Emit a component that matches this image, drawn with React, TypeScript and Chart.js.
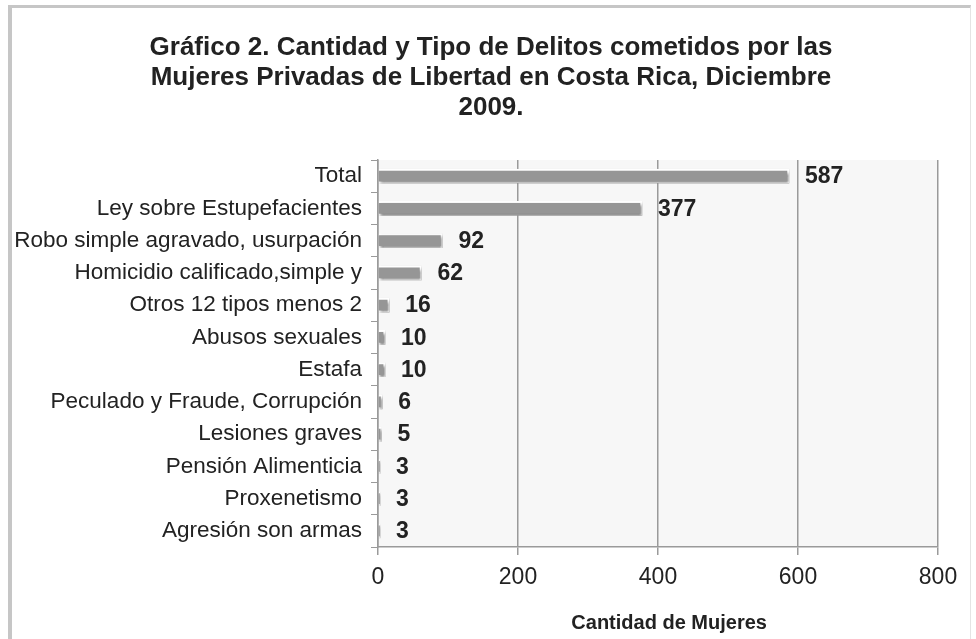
import React, { useEffect, useRef } from "react";
import { Chart, registerables } from "chart.js";

Chart.register(...registerables);

const categories = [
  "Total",
  "Ley sobre Estupefacientes",
  "Robo simple agravado, usurpación",
  "Homicidio calificado,simple y",
  "Otros 12 tipos menos 2",
  "Abusos sexuales",
  "Estafa",
  "Peculado y Fraude, Corrupción",
  "Lesiones graves",
  "Pensión Alimenticia",
  "Proxenetismo",
  "Agresión son armas",
];
const values = [587, 377, 92, 62, 16, 10, 10, 6, 5, 3, 3, 3];
const xTicks = [0, 200, 400, 600, 800];
const titleLines = [
  "Gráfico 2. Cantidad y Tipo de Delitos cometidos por las",
  "Mujeres Privadas de Libertad en Costa Rica, Diciembre",
  "2009.",
];
const xTitle = "    Cantidad de Mujeres";

const FONT = "'Liberation Sans', Arial, Helvetica, sans-serif";

const bgPlugin = {
  id: "plotBg",
  beforeDraw(chart: any) {
    const { ctx, chartArea } = chart;
    ctx.save();
    ctx.fillStyle = "#f7f7f7";
    ctx.fillRect(chartArea.left, chartArea.top, chartArea.right - chartArea.left, chartArea.bottom - chartArea.top);
    ctx.restore();
  },
};

const titlePlugin = {
  id: "centeredTitle",
  afterDraw(chart: any) {
    const { ctx } = chart;
    ctx.save();
    ctx.font = `bold 26px ${FONT}`;
    ctx.fillStyle = "#222";
    ctx.textAlign = "center";
    ctx.textBaseline = "middle";
    titleLines.forEach((line, i) => {
      ctx.fillText(line, 491, 48 + i * 30);
    });
    ctx.restore();
  },
};

const shadowPlugin = {
  id: "barShadow",
  beforeDatasetsDraw(chart: any) {
    const ctx = chart.ctx;
    ctx.save();
    ctx.shadowColor = "rgba(0,0,0,0.5)";
    ctx.shadowBlur = 3;
    ctx.shadowOffsetX = 1.5;
    ctx.shadowOffsetY = 2;
  },
  afterDatasetsDraw(chart: any) {
    chart.ctx.restore();
  },
};

const labelPlugin = {
  id: "valueLabels",
  afterDatasetsDraw(chart: any) {
    const { ctx } = chart;
    const meta = chart.getDatasetMeta(0);
    ctx.save();
    ctx.font = `bold 23px ${FONT}`;
    ctx.fillStyle = "#222";
    ctx.textAlign = "left";
    ctx.textBaseline = "middle";
    meta.data.forEach((bar: any, i: number) => {
      ctx.fillText(String(values[i]), bar.x + 16, bar.y + 1);
    });
    ctx.restore();
  },
};

export default function App() {
  const ref = useRef<HTMLCanvasElement>(null);
  useEffect(() => {
    if (!ref.current) return;
    const chart = new Chart(ref.current, {
      type: "bar",
      data: {
        labels: categories,
        datasets: [
          {
            data: values,
            backgroundColor: "#969696",
            borderColor: "#ffffff",
            borderWidth: 2,
            barThickness: 14,
          },
        ],
      },
      options: {
        indexAxis: "y",
        animation: false,
        responsive: false,
        maintainAspectRatio: false,
        layout: { padding: { left: 8, right: 38, top: 160, bottom: 0 } },
        plugins: {
          legend: { display: false },
          tooltip: { enabled: false },
          title: { display: false },
        },
        scales: {
          x: {
            min: 0,
            max: 800,
            afterBuildTicks(scale: any) {
              scale.ticks = xTicks.map((v) => ({ value: v }));
            },
            afterFit(scale: any) {
              scale.height = 92;
            },
            ticks: {
              color: "#222",
              font: { family: FONT, size: 23 },
              padding: 9,
            },
            grid: {
              color: "#9a9a9a",
              lineWidth: 1.5,
              tickLength: 8,
            },
            border: { display: true, color: "#9a9a9a", width: 1.5 },
            title: {
              display: true,
              text: xTitle,
              color: "#222",
              font: { family: FONT, size: 20, weight: "bold" },
              padding: { top: 0, bottom: 4 },
            },
          },
          y: {
            afterFit(scale: any) {
              scale.width = 370;
            },
            ticks: {
              color: "#222",
              font: { family: FONT, size: 22.5 },
              padding: 9,
            },
            grid: {
              offset: true,
              drawOnChartArea: false,
              color: "#9a9a9a",
              tickLength: 7,
            },
            border: { display: true, color: "#9a9a9a", width: 1.5 },
          },
        },
      } as any,
      plugins: [bgPlugin, shadowPlugin, labelPlugin, titlePlugin],
    });
    return () => chart.destroy();
  }, []);

  return (
    <div style={{ position: "fixed", left: 0, top: 0, width: 976, height: 639, background: "#fff", overflow: "hidden" }}>
      <div
        style={{
          position: "absolute",
          left: 8,
          top: 5,
          width: 963,
          height: 700,
          borderTop: "3px solid #c6c6c6",
          borderLeft: "4px solid #c6c6c6",
          borderRight: "1px solid #e4e4e4",
          boxSizing: "border-box",
        }}
      />
      <canvas ref={ref} width={976} height={639} style={{ position: "absolute", left: 0, top: 0 }} />
    </div>
  );
}
